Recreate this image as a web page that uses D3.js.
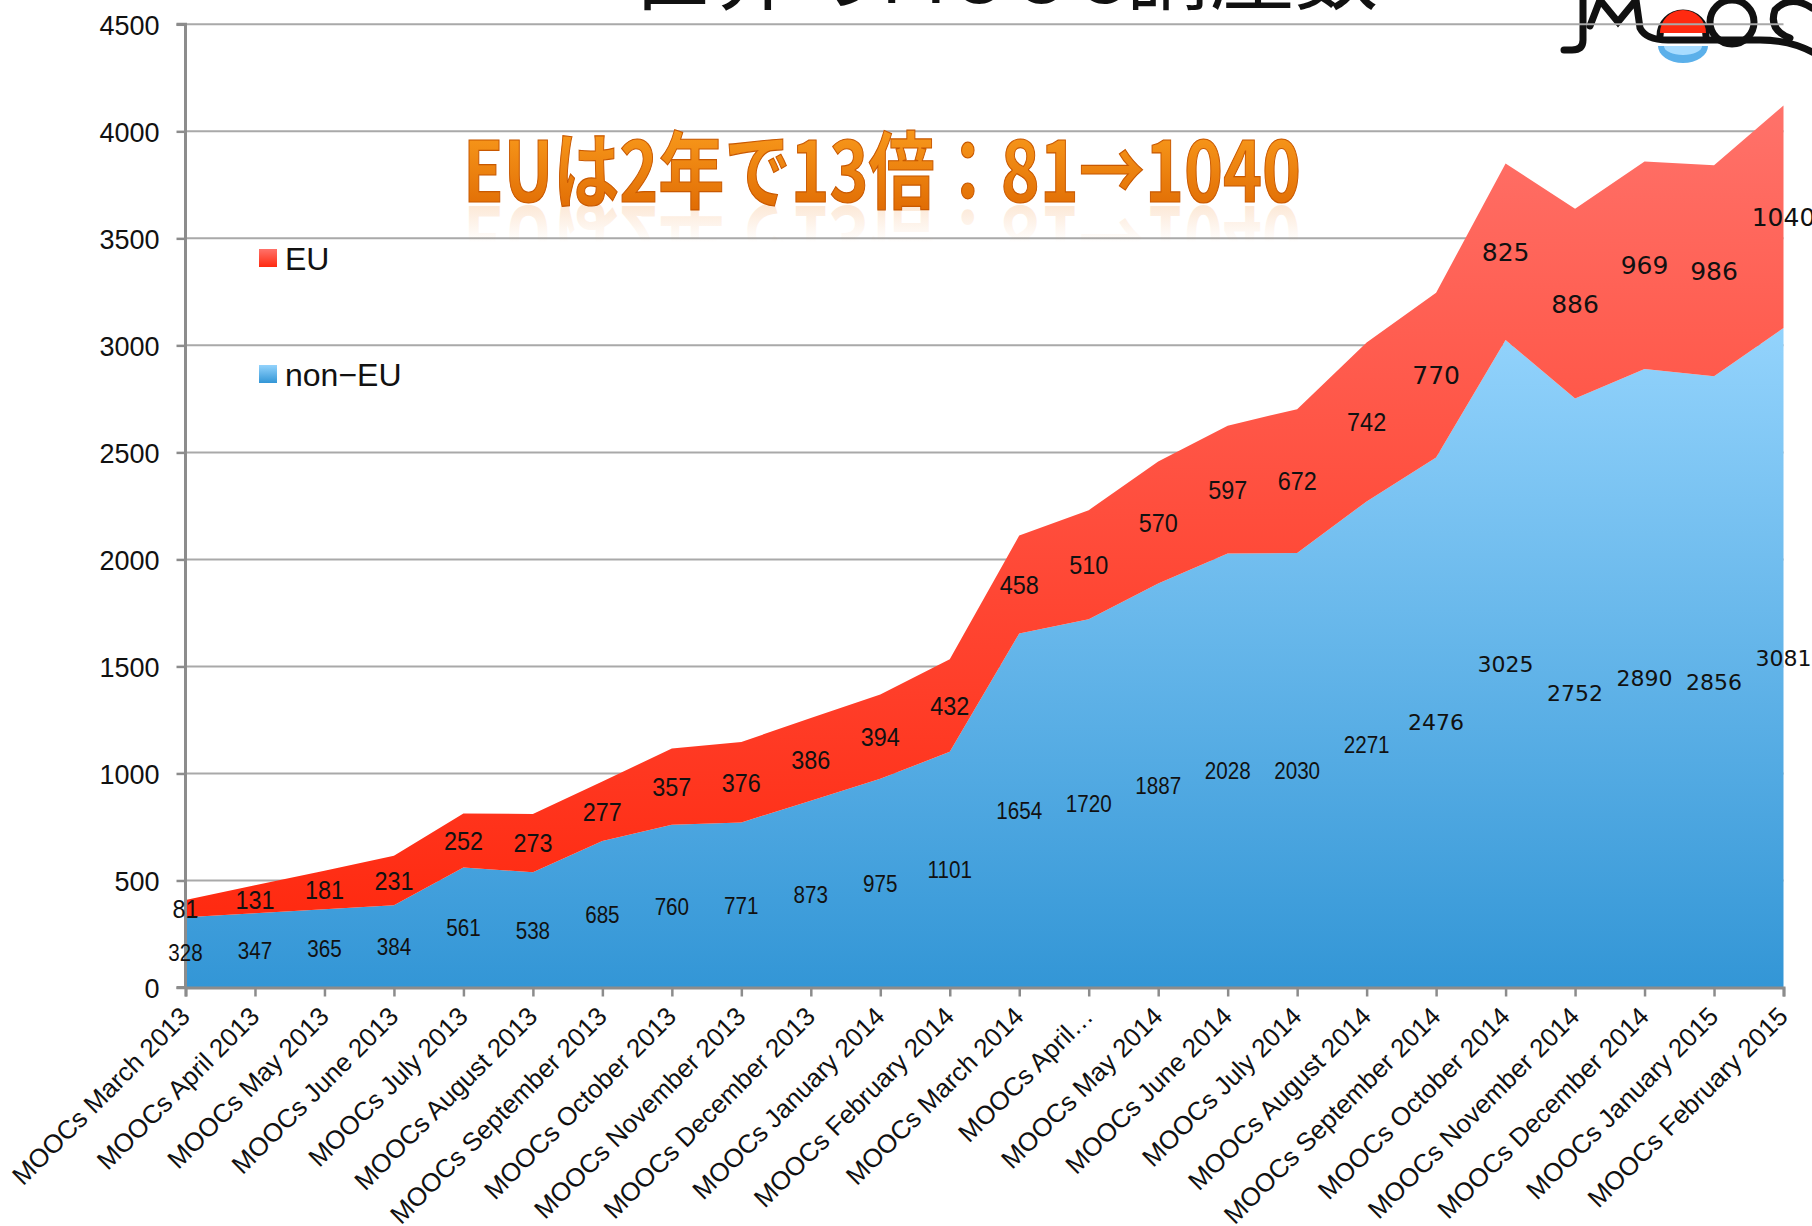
<!DOCTYPE html>
<html>
<head>
<meta charset="utf-8">
<script src="https://cdn.jsdelivr.net/npm/d3@7"></script>
<style>
  html,body{margin:0;padding:0;background:#fff;}
  svg{display:block;}
</style>
</head>
<body>
<div id="chart"></div>
<script>
// World MOOC count, EU vs non-EU, stacked area
const categories = [
  'MOOCs March 2013','MOOCs April 2013','MOOCs May 2013','MOOCs June 2013',
  'MOOCs July 2013','MOOCs August 2013','MOOCs September 2013','MOOCs October 2013',
  'MOOCs November 2013','MOOCs December 2013','MOOCs January 2014','MOOCs February 2014',
  'MOOCs March 2014','MOOCs April…','MOOCs May 2014','MOOCs June 2014',
  'MOOCs July 2014','MOOCs August 2014','MOOCs September 2014','MOOCs October 2014',
  'MOOCs November 2014','MOOCs December 2014','MOOCs January 2015','MOOCs February 2015'
];
const nonEU = [328,347,365,384,561,538,685,760,771,873,975,1101,1654,1720,1887,2028,2030,2271,2476,3025,2752,2890,2856,3081];
const eu    = [81,131,181,231,252,273,277,357,376,386,394,432,458,510,570,597,672,742,770,825,886,969,986,1040];
const yTicks = [0,500,1000,1500,2000,2500,3000,3500,4000,4500];
const seriesNames = ['non−EU','EU'];

(function(){
  const W = 1812, H = 1226;
  const svg = d3.select('#chart').append('svg').attr('width',W).attr('height',H);
  const defs = svg.append('defs');

  function grad(id, top, bottom){
    const g = defs.append('linearGradient').attr('id',id).attr('x1',0).attr('y1',0).attr('x2',0).attr('y2',1);
    g.append('stop').attr('offset','0%').attr('stop-color',top);
    g.append('stop').attr('offset','100%').attr('stop-color',bottom);
  }
  grad('gEU','#ff726a','#ff2a10');
  grad('gNon','#93d3fc','#3396d6');
  grad('gHead','#ffa622','#dc6400');
  const rg = defs.append('linearGradient').attr('id','gRefl').attr('x1',0).attr('y1',0).attr('x2',0).attr('y2',1);
  rg.append('stop').attr('offset','0%').attr('stop-color','#f08a30').attr('stop-opacity',0);
  rg.append('stop').attr('offset','50%').attr('stop-color','#f08a30').attr('stop-opacity',0);
  rg.append('stop').attr('offset','100%').attr('stop-color','#f08a30').attr('stop-opacity',0.32);

  const x = d3.scalePoint().domain(categories).range([185.5,1783.5]);
  const y = d3.scaleLinear().domain([0,4500]).range([987.5,24.3]);

  // logo (partly cropped, top right)
  const logo = svg.append('g').attr('fill','none').attr('stroke','#111').attr('stroke-width',7).attr('stroke-linecap','round');
  logo.append('path').attr('d','M1583,0 L1583,40 Q1583,50 1572,50 L1564,50');
  logo.append('path').attr('d','M1590,26 L1600,0 L1618,22 L1636,0 L1640,28 Q1646,40 1668,40 L1760,40 Q1790,40 1812,52');
  svg.append('path').attr('d','M1660,33 A23,23 0 0 1 1706,33 Z').attr('fill','#ff2a10');
  logo.append('path').attr('d','M1660,36 A23,23 0 0 1 1706,36');
  logo.append('circle').attr('cx',1732).attr('cy',22).attr('r',22);
  logo.append('path').attr('d','M1812,8 Q1790,-6 1775,10 Q1768,30 1790,38');
  svg.append('path').attr('d','M1658,46 L1708,46 A25,17 0 0 1 1658,46 Z').attr('fill','#5bb0ea');
  svg.append('path').attr('d','M1664,46 L1702,46 A19,9 0 0 1 1664,46 Z').attr('fill','#a8dcff');

  // title (cropped at top)
  svg.append('text').attr('x',1003).attr('y',3).attr('text-anchor','middle')
    .attr('font-family','"Noto Sans CJK JP","Noto Sans",sans-serif').attr('font-size',84)
    .attr('fill','#111').text('世界のMOOC講座数');

  // gridlines
  svg.append('g').selectAll('line').data(yTicks.filter(d=>d>0)).enter().append('line')
    .attr('x1',x.range()[0]).attr('x2',x.range()[1])
    .attr('y1',d=>y(d)).attr('y2',d=>y(d))
    .attr('stroke','#a9a9a9').attr('stroke-width',2);

  // stacked areas
  const rows = categories.map((c,i)=>({cat:c, nonEU:nonEU[i], EU:eu[i]}));
  const stack = d3.stack().keys(['nonEU','EU'])(rows);
  const area = d3.area().x(d=>x(d.data.cat)).y0(d=>y(d[0])).y1(d=>y(d[1]));
  svg.append('g').selectAll('path').data(stack).enter().append('path')
    .attr('d',area)
    .attr('fill',d=>d.key==='EU'?'url(#gEU)':'url(#gNon)');

  // axes
  const yAxis = svg.append('g').attr('transform',`translate(${x.range()[0]},0)`)
    .call(d3.axisLeft(y).tickValues(yTicks).tickSize(9).tickPadding(17).tickFormat(d3.format('d')));
  const xAxis = svg.append('g').attr('transform',`translate(0,${y(0)})`)
    .call(d3.axisBottom(x).tickSize(9).tickFormat(''));
  [yAxis,xAxis].forEach(a=>{
    a.select('.domain').attr('stroke','#8c8c8c').attr('stroke-width',3);
    a.selectAll('.tick line').attr('stroke','#8c8c8c').attr('stroke-width',2.5);
  });
  yAxis.select('.domain').attr('d',`M-9,${y(4500)}H0V${y(0)}H-9`);
  yAxis.selectAll('.tick text').attr('font-family','"Liberation Sans",Arial,sans-serif')
    .attr('font-size',27).attr('fill','#111').attr('dy','0.36em');

  // rotated category labels
  svg.append('g').selectAll('text').data(categories).enter().append('text')
    .attr('transform',d=>`translate(${x(d)+6},1018) rotate(-45)`)
    .attr('text-anchor','end')
    .attr('font-family','"Liberation Sans",Arial,sans-serif').attr('font-size',26)
    .attr('fill','#111').text(d=>d);

  // data labels
  const lab = svg.append('g').attr('fill','#111');
  stack.forEach(s=>{
    s.forEach((d,i)=>{
      const cx = x(d.data.cat), cy = y((d[0]+d[1])/2);
      const isEU = s.key==='EU';
      const wide = i>=18;
      const fs = wide ? (isEU?25:22) : (isEU?26:24);
      const sx = wide ? 1 : (isEU?0.9:0.86);
      lab.append('text')
        .attr('transform',`translate(${cx},${cy}) scale(${sx},1)`)
        .attr('text-anchor','middle').attr('dy','0.36em')
        .attr('font-family', wide ? '"DejaVu Sans",sans-serif' : '"Liberation Sans",Arial,sans-serif')
        .attr('font-size',fs)
        .text(d.data[s.key]);
    });
  });

  // legend
  const leg = svg.append('g');
  const legItems = [{name:seriesNames[1], fill:'url(#gEU)', y:249},{name:seriesNames[0], fill:'url(#gNon)', y:365}];
  legItems.forEach(l=>{
    leg.append('rect').attr('x',259).attr('y',l.y).attr('width',18).attr('height',18).attr('fill',l.fill);
    leg.append('text').attr('x',285).attr('y',l.y+21).attr('font-family','"Liberation Sans",Arial,sans-serif')
      .attr('font-size',32).attr('fill','#111').text(l.name);
  });

  // headline with reflection
  const head = 'EUは2年で13倍：81→1040';
  const base = 202;
  svg.append('text').attr('x',463).attr('y',base)
    .attr('transform',`translate(0,${2*base+4}) scale(1,-1)`)
    .attr('font-family','"Noto Sans CJK JP",sans-serif').attr('font-weight',700).attr('font-size',84)
    .attr('textLength',838).attr('lengthAdjust','spacingAndGlyphs')
    .attr('fill','url(#gRefl)').text(head);
  svg.append('text').attr('x',463).attr('y',base)
    .attr('font-family','"Noto Sans CJK JP",sans-serif').attr('font-weight',700).attr('font-size',84)
    .attr('textLength',838).attr('lengthAdjust','spacingAndGlyphs')
    .attr('fill','url(#gHead)').attr('stroke','#c85800').attr('stroke-width',1.2)
    .text(head);
})();
</script>
</body>
</html>
